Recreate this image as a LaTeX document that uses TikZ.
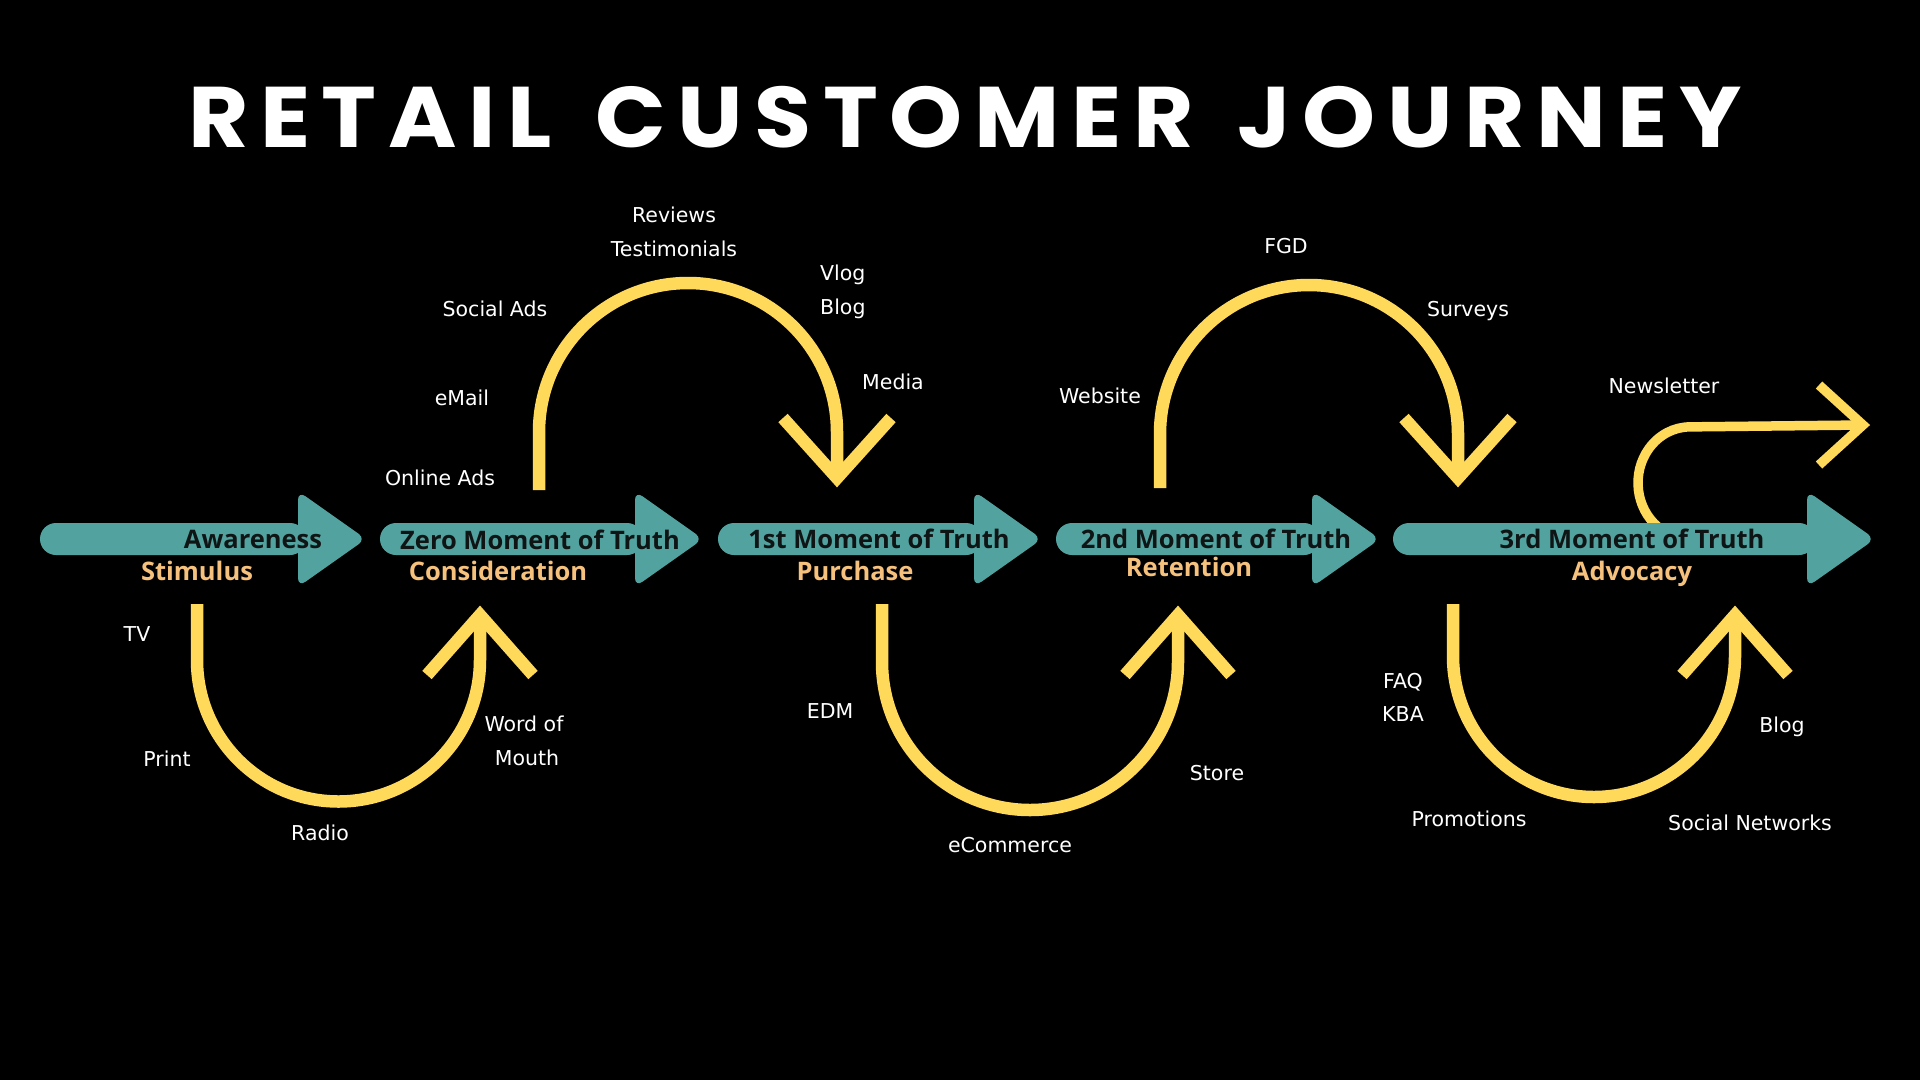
\documentclass[tikz,border=0pt]{standalone}
\usepackage{fontspec}
\newfontfamily\titlefont{Poppins}[LetterSpace=13.5, FakeStretch=1.08]
\newfontfamily\labelfont{DejaVu Sans}
\newfontfamily\stagefont{Open Sans}
\definecolor{tealc}{RGB}{82,163,160}
\definecolor{yellowc}{RGB}{255,217,90}
\definecolor{tanc}{RGB}{245,193,125}
\definecolor{darktxt}{RGB}{15,20,20}
\newcommand\StageArrow[3]{%
  \fill[tealc, rounded corners=16pt] (#1,523) rectangle (#2+8,555);
  \fill[tealc, rounded corners=9pt] (#2,539) -- (#2,491) -- (#3,539) -- (#2,587) -- cycle;
}
\tikzset{
  lbl/.style={anchor=base, text=white, inner sep=0pt, font=\labelfont\fontsize{20.5}{34}\selectfont},
  stagetxt/.style={anchor=base, text=darktxt, inner sep=0pt, font=\stagefont\bfseries\fontsize{25.5}{30}\selectfont},
  subtxt/.style={anchor=base, text=tanc, inner sep=0pt, font=\stagefont\bfseries\fontsize{25.5}{30}\selectfont},
  yarc/.style={draw=yellowc, line width=12.5pt, line cap=butt, line join=miter},
  chev/.style={draw=yellowc, line width=12.5pt, line cap=butt, line join=miter, miter limit=10},
}
\begin{document}
\begin{tikzpicture}[x=1pt,y=-1pt]
\fill[black] (0,0) rectangle (1920,1080);
\useasboundingbox (0,0) rectangle (1920,1080);

% title
\node[anchor=base, text=white, inner sep=0pt, font=\titlefont\bfseries\fontsize{86}{90}\selectfont] (title) at (965,147) {RETAIL\hspace{12pt} CUSTOMER\hspace{12pt} JOURNEY};

% named connector end points
\coordinate (aS) at (539,490);  \coordinate (aE) at (837,478);
\coordinate (eS) at (1160,488); \coordinate (eE) at (1458,478);
\coordinate (bS) at (197,604);  \coordinate (bE) at (480,615);
\coordinate (cS) at (882,604);  \coordinate (cE) at (1178,615);
\coordinate (dS) at (1453,604); \coordinate (dE) at (1735,615);
\coordinate (fS) at (1658,527); \coordinate (fE) at (1863,425);

% yellow loops (behind the teal arrows)
\draw[yarc] (aS) -- (539,432) arc[start angle=180, end angle=360, radius=149] -- (aE);
\draw[chev] ([xshift=-54pt,yshift=60pt]aE) -- (aE) -- ([xshift=54pt,yshift=60pt]aE);
\draw[yarc] (eS) -- (1160,434) arc[start angle=180, end angle=360, radius=149] -- (eE);
\draw[chev] ([xshift=-54pt,yshift=60pt]eE) -- (eE) -- ([xshift=54pt,yshift=60pt]eE);

\draw[yarc] (bS) -- (197,660) arc[start angle=180, end angle=0, radius=141.5] -- (bE);
\draw[chev] ([xshift=-53pt,yshift=-60pt]bE) -- (bE) -- ([xshift=53pt,yshift=-60pt]bE);
\draw[yarc] (cS) -- (882,662) arc[start angle=180, end angle=0, radius=148] -- (cE);
\draw[chev] ([xshift=-53pt,yshift=-60pt]cE) -- (cE) -- ([xshift=53pt,yshift=-60pt]cE);
\draw[yarc] (dS) -- (1453,656) arc[start angle=180, end angle=0, radius=141] -- (dE);
\draw[chev] ([xshift=-53pt,yshift=-60pt]dE) -- (dE) -- ([xshift=53pt,yshift=-60pt]dE);

\draw[yarc, line width=9.5pt] (fS) arc[start angle=128, end angle=270, x radius=52, y radius=56] -- (fE);
\draw[chev, line width=9.5pt] ([xshift=-44pt,yshift=-40pt]fE) -- (fE) -- ([xshift=-44pt,yshift=40pt]fE);

% teal stage arrows
\StageArrow{40}{298}{366}
\StageArrow{380}{635}{703}
\StageArrow{718}{974}{1042}
\StageArrow{1056}{1312}{1380}
\StageArrow{1393}{1807}{1875}

% stage texts
\node[stagetxt] (aw) at (253,548) {Awareness};
\node[subtxt] (stim) at (197,580) {Stimulus};
\node[stagetxt] (zmot) at (540,549) {Zero Moment of Truth};
\node[subtxt] (cons) at (498,580) {Consideration};
\node[stagetxt] (fmot) at (879,548) {1st Moment of Truth};
\node[subtxt] (purch) at (855,580) {Purchase};
\node[stagetxt] (smot) at (1216,548) {2nd Moment of Truth};
\node[subtxt] (ret) at (1189,576) {Retention};
\node[stagetxt] (tmot) at (1632,548) {3rd Moment of Truth};
\node[subtxt] (adv) at (1632,580) {Advocacy};

% channel labels
\node[lbl] (reviews) at (674,222.5) {Reviews};
\node[lbl] (testi) at (674,256.5) {Testimonials};
\node[lbl] (socads) at (495,316.5) {Social Ads};
\node[lbl, anchor=base west] (vlog) at (820,280.5) {Vlog};
\node[lbl, anchor=base west] (blog1) at (820,314.5) {Blog};
\node[lbl] (media) at (893,389.5) {Media};
\node[lbl] (email) at (462,405.5) {eMail};
\node[lbl] (online) at (440,485.5) {Online Ads};
\node[lbl] (fgd) at (1286,253.5) {FGD};
\node[lbl] (surveys) at (1468,316.5) {Surveys};
\node[lbl] (website) at (1100,403.5) {Website};
\node[lbl] (news) at (1664,393.5) {Newsletter};
\node[lbl] (tv) at (137,641.5) {TV};
\node[lbl] (print) at (167,766.5) {Print};
\node[lbl] (radio) at (320,840.5) {Radio};
\node[lbl] (wordof) at (524,731.5) {Word of};
\node[lbl] (mouth) at (527,765.5) {Mouth};
\node[lbl] (edm) at (830,718.5) {EDM};
\node[lbl] (ecom) at (1010,852.5) {eCommerce};
\node[lbl] (store) at (1217,780.5) {Store};
\node[lbl] (faq) at (1403,688.5) {FAQ};
\node[lbl] (kba) at (1403,721.5) {KBA};
\node[lbl] (promo) at (1469,826.5) {Promotions};
\node[lbl] (blog2) at (1782,732.5) {Blog};
\node[lbl] (socnet) at (1750,830.5) {Social Networks};
\end{tikzpicture}
\end{document}
